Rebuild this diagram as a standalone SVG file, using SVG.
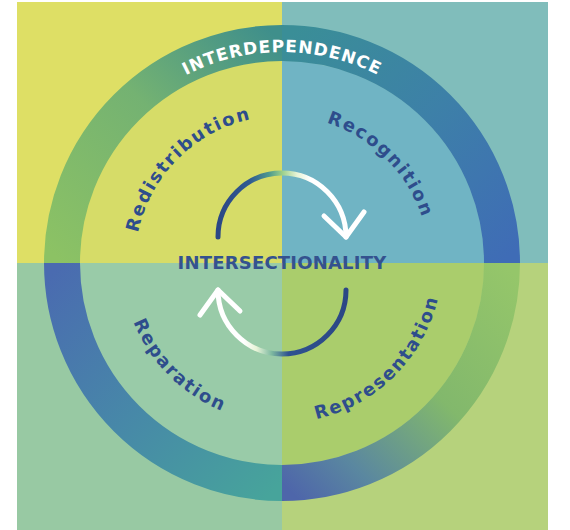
<svg xmlns="http://www.w3.org/2000/svg" width="570" height="530" viewBox="0 0 570 530">
  <defs>
    <style>
      .lbl { font-family: "DejaVu Sans", "Liberation Sans", sans-serif; font-weight: bold; fill: #2E4D8C; font-size: 18px; letter-spacing: 1.8px; }
      .ring { fill: none; stroke-width: 36; }
      .arc { fill: none; stroke-width: 5; stroke-linecap: round; stroke-linejoin: round; }
    </style>
    <linearGradient id="gTL" gradientUnits="userSpaceOnUse" x1="62" y1="263" x2="282" y2="43">
      <stop offset="0" stop-color="#8CC264"/>
      <stop offset="0.55" stop-color="#74B272"/>
      <stop offset="1" stop-color="#3F8F8B"/>
    </linearGradient>
    <linearGradient id="gTR" gradientUnits="userSpaceOnUse" x1="282" y1="43" x2="502" y2="263">
      <stop offset="0" stop-color="#3A8E97"/>
      <stop offset="0.5" stop-color="#3D80A8"/>
      <stop offset="1" stop-color="#3F6CB6"/>
    </linearGradient>
    <linearGradient id="gBR" gradientUnits="userSpaceOnUse" x1="502" y1="263" x2="282" y2="483">
      <stop offset="0" stop-color="#95C66A"/>
      <stop offset="0.45" stop-color="#82B86C"/>
      <stop offset="0.8" stop-color="#5A87A0"/>
      <stop offset="1" stop-color="#4E66AA"/>
    </linearGradient>
    <linearGradient id="gBL" gradientUnits="userSpaceOnUse" x1="282" y1="483" x2="62" y2="263">
      <stop offset="0" stop-color="#47A49B"/>
      <stop offset="0.5" stop-color="#4788A8"/>
      <stop offset="1" stop-color="#4A6BB0"/>
    </linearGradient>
    <linearGradient id="gArrTop" gradientUnits="userSpaceOnUse" x1="218" y1="0" x2="346" y2="0">
      <stop offset="0" stop-color="#2B4785"/>
      <stop offset="0.25" stop-color="#2F5A92"/>
      <stop offset="0.4" stop-color="#4E9A8E"/>
      <stop offset="0.5" stop-color="#9ACF88"/>
      <stop offset="0.62" stop-color="#E8F4D8"/>
      <stop offset="0.72" stop-color="#FFFFFF"/>
      <stop offset="1" stop-color="#FFFFFF"/>
    </linearGradient>
    <linearGradient id="gArrBot" gradientUnits="userSpaceOnUse" x1="346" y1="0" x2="218" y2="0">
      <stop offset="0" stop-color="#2B4785"/>
      <stop offset="0.45" stop-color="#2F5290"/>
      <stop offset="0.58" stop-color="#7DB9A0"/>
      <stop offset="0.7" stop-color="#E8F4D8"/>
      <stop offset="0.8" stop-color="#FFFFFF"/>
      <stop offset="1" stop-color="#FFFFFF"/>
    </linearGradient>
    <path id="pInter" d="M 71 263 A 211 211 0 0 1 493 263"/>
    <path id="pRedis" d="M 177.35 367.65 A 148 148 0 0 1 386.65 158.35"/>
    <path id="pRecog" d="M 177.35 158.35 A 148 148 0 0 1 386.65 367.65"/>
    <path id="pRepar" d="M 168.16 149.16 A 161 161 0 0 0 395.84 376.84"/>
    <path id="pRepre" d="M 168.16 376.84 A 161 161 0 0 0 395.84 149.16"/>
  </defs>

  <g id="background">
    <rect x="17" y="2" width="265" height="261" fill="#DEDF65"/>
    <rect x="282" y="2" width="266" height="261" fill="#80BDBB"/>
    <rect x="17" y="263" width="265" height="267" fill="#98C9A3"/>
    <rect x="282" y="263" width="266" height="267" fill="#B6D27C"/>
    <path d="M 282 263 L 80 263 A 202 202 0 0 1 282 61 Z" fill="#D6DC68"/>
    <path d="M 282 263 L 282 61 A 202 202 0 0 1 484 263 Z" fill="#70B4C4"/>
    <path d="M 282 263 L 484 263 A 202 202 0 0 1 282 465 Z" fill="#AACD6C"/>
    <path d="M 282 263 L 282 465 A 202 202 0 0 1 80 263 Z" fill="#99CBA8"/>
  </g>

  <g id="interdependence">
    <path class="ring" d="M 62 263 A 220 220 0 0 1 282 43" stroke="url(#gTL)"/>
    <path class="ring" d="M 282 43 A 220 220 0 0 1 502 263" stroke="url(#gTR)"/>
    <path class="ring" d="M 502 263 A 220 220 0 0 1 282 483" stroke="url(#gBR)"/>
    <path class="ring" d="M 282 483 A 220 220 0 0 1 62 263" stroke="url(#gBL)"/>
    <text style="font-family: 'DejaVu Sans', 'Liberation Sans', sans-serif; font-weight: bold; font-size: 17px; letter-spacing: 1px; fill: #FFFFFF;"><textPath href="#pInter" startOffset="50%" text-anchor="middle">INTERDEPENDENCE</textPath></text>
  </g>

  <g id="redistribution">
    <text class="lbl"><textPath href="#pRedis" startOffset="50%" text-anchor="middle">Redistribution</textPath></text>
  </g>
  <g id="recognition">
    <text class="lbl"><textPath href="#pRecog" startOffset="50%" text-anchor="middle">Recognition</textPath></text>
  </g>
  <g id="reparation">
    <text class="lbl"><textPath href="#pRepar" startOffset="50%" text-anchor="middle">Reparation</textPath></text>
  </g>
  <g id="representation">
    <text class="lbl"><textPath href="#pRepre" startOffset="50%" text-anchor="middle">Representation</textPath></text>
  </g>

  <g id="intersectionality">
    <text x="282" y="269" text-anchor="middle" style="font-family: 'DejaVu Sans', 'Liberation Sans', sans-serif; font-weight: bold; font-size: 18px; letter-spacing: 0.2px; fill: #34528F;">INTERSECTIONALITY</text>
  </g>

  <g id="connectors">
    <path class="arc" d="M 218 237 A 64 64 0 0 1 346 237" stroke="url(#gArrTop)"/>
    <polyline class="arc" points="324,216 346,237 364,212" stroke="#FFFFFF"/>
    <path class="arc" d="M 346 290 A 64 64 0 0 1 218 290" stroke="url(#gArrBot)"/>
    <polyline class="arc" points="240,311 218,290 200,315" stroke="#FFFFFF"/>
  </g>
</svg>
